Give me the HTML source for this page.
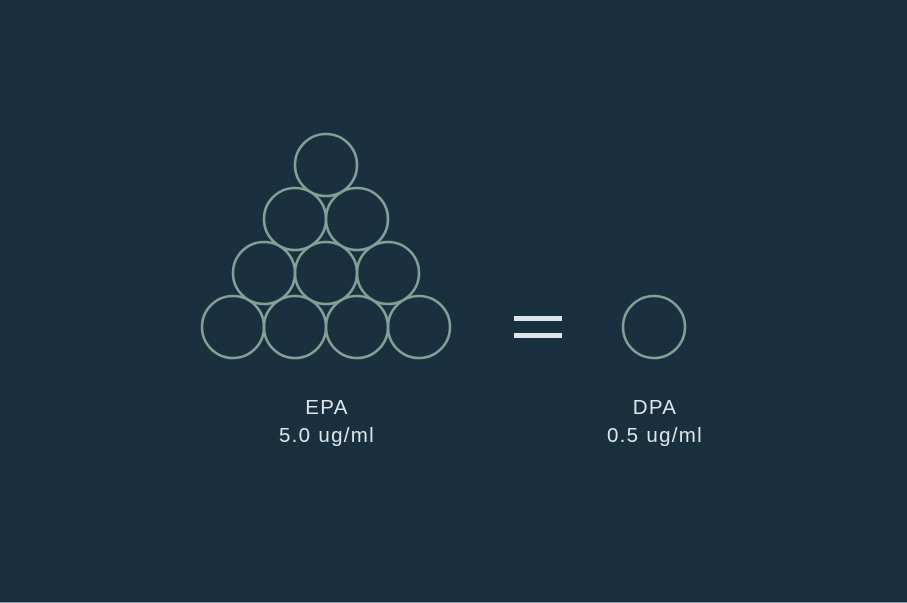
<!DOCTYPE html>
<html><head><style>
html,body{margin:0;padding:0;background:#1a303e;}
svg{display:block}
</style></head><body>
<svg width="907" height="603" viewBox="0 0 907 603" xmlns="http://www.w3.org/2000/svg">
<rect width="907" height="603" fill="#1a303e"/>
<rect x="0" y="602" width="907" height="1" fill="#8a9aa2"/>
<g fill="none" stroke="#82a096" stroke-width="2.6">
<circle cx="326" cy="165" r="31"/>
<circle cx="295" cy="219" r="31"/>
<circle cx="357" cy="219" r="31"/>
<circle cx="264" cy="273" r="31"/>
<circle cx="326" cy="273" r="31"/>
<circle cx="388" cy="273" r="31"/>
<circle cx="233" cy="327" r="31"/>
<circle cx="295" cy="327" r="31"/>
<circle cx="357" cy="327" r="31"/>
<circle cx="419" cy="327" r="31"/>
<circle cx="654" cy="327" r="31"/>
</g>
<rect x="514" y="316" width="48" height="5" fill="#dce6ea"/>
<rect x="514" y="333" width="48" height="5" fill="#dce6ea"/>
<g font-family="Liberation Sans, sans-serif" font-size="20.5" letter-spacing="1.3" fill="#dce6ea" text-anchor="middle">
<text x="327" y="414">EPA</text>
<text x="327" y="442">5.0 ug/ml</text>
<text x="655" y="414">DPA</text>
<text x="655" y="442">0.5 ug/ml</text>
</g>
</svg>
</body></html>
